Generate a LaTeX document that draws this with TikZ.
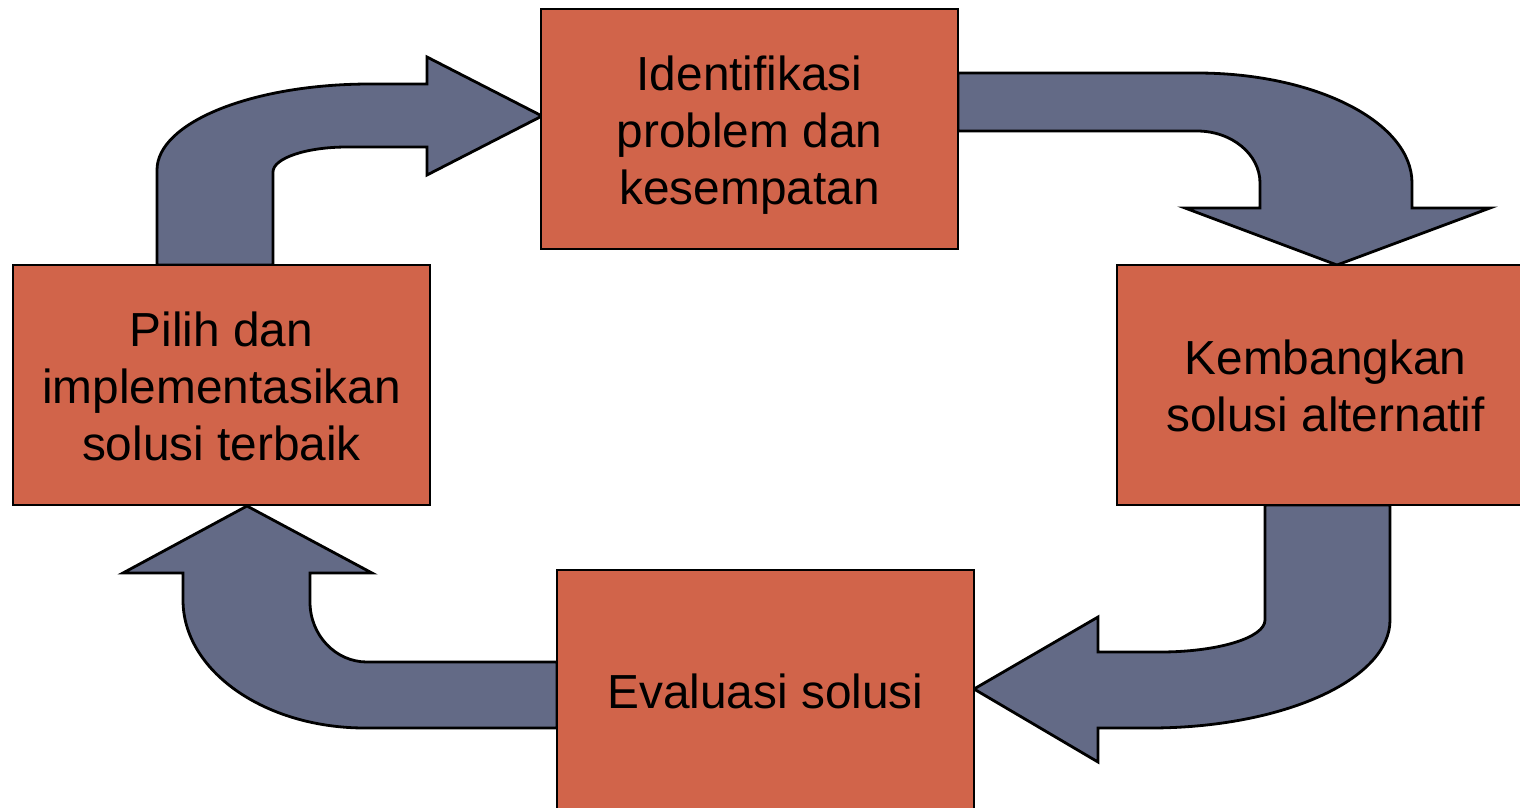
\documentclass[tikz,border=0pt]{standalone}
\usepackage{fontspec}
\setmainfont{Liberation Sans}
\definecolor{boxfill}{HTML}{D1644A}
\definecolor{arrowfill}{HTML}{636A86}
\newcommand{\mystrut}{\rule[-10.5pt]{0pt}{57pt}}
\tikzset{
  stepbox/.style={draw=black, line width=2.8pt, fill=boxfill, minimum width=417pt,
    minimum height=240pt, inner sep=0pt, align=center,
    font=\fontsize{47.8}{57}\selectfont},
  blockarrow/.style={draw=black, line width=2.8pt, fill=arrowfill, line join=miter}
}
\begin{document}
\begin{tikzpicture}[x=1pt,y=-1pt]
\useasboundingbox (0,0) rectangle (1520,807);
\clip (0,0) rectangle (1520,807);
\fill[white] (0,0) rectangle (1520,807);

% block arrows
\draw[blockarrow] (157,265) -- (157,170) .. controls (157,122.5) and (252.4,84) .. (370,84)
  -- (427,84) -- (427,57) -- (542,116) -- (427,175) -- (427,147) -- (347,147)
  .. controls (306.1,147) and (273,158.2) .. (273,172) -- (273,265) -- cycle;
\draw[blockarrow] (958,73) -- (1197,73) .. controls (1315.7,73) and (1412,122.2) .. (1412,183)
  -- (1412,208) -- (1490,208) -- (1337,265) -- (1185,208) -- (1260,208) -- (1260,183)
  .. controls (1260,154.3) and (1231.8,131) .. (1197,131) -- (958,131) -- cycle;
\draw[blockarrow] (1390,505) -- (1390,620) .. controls (1390,679.6) and (1282.6,728) .. (1150,728)
  -- (1098,728) -- (1098,762) -- (974,689) -- (1098,617) -- (1098,652) -- (1160,652)
  .. controls (1218,652) and (1265,637.7) .. (1265,620) -- (1265,505) -- cycle;
\draw[blockarrow] (557,728) -- (365,728) .. controls (264.5,728) and (183,670.7) .. (183,600)
  -- (183,573) -- (123,573) -- (247,506) -- (372,573) -- (310,573) -- (310,602)
  .. controls (310,635.1) and (335.5,662) .. (367,662) -- (557,662) -- cycle;

% boxes
\node[stepbox] (ident) at (749.5,129) {\mystrut Identifikasi\\\mystrut problem dan\\\mystrut kesempatan};
\node[stepbox] (kemb) at (1325.5,385) {\mystrut Kembangkan\\\mystrut solusi alternatif};
\node[stepbox] (eval) at (765.5,690) {\mystrut Evaluasi solusi};
\node[stepbox] (pilih) at (221.5,385) {\mystrut Pilih dan\\\mystrut implementasikan\\\mystrut solusi terbaik};
\end{tikzpicture}
\end{document}
